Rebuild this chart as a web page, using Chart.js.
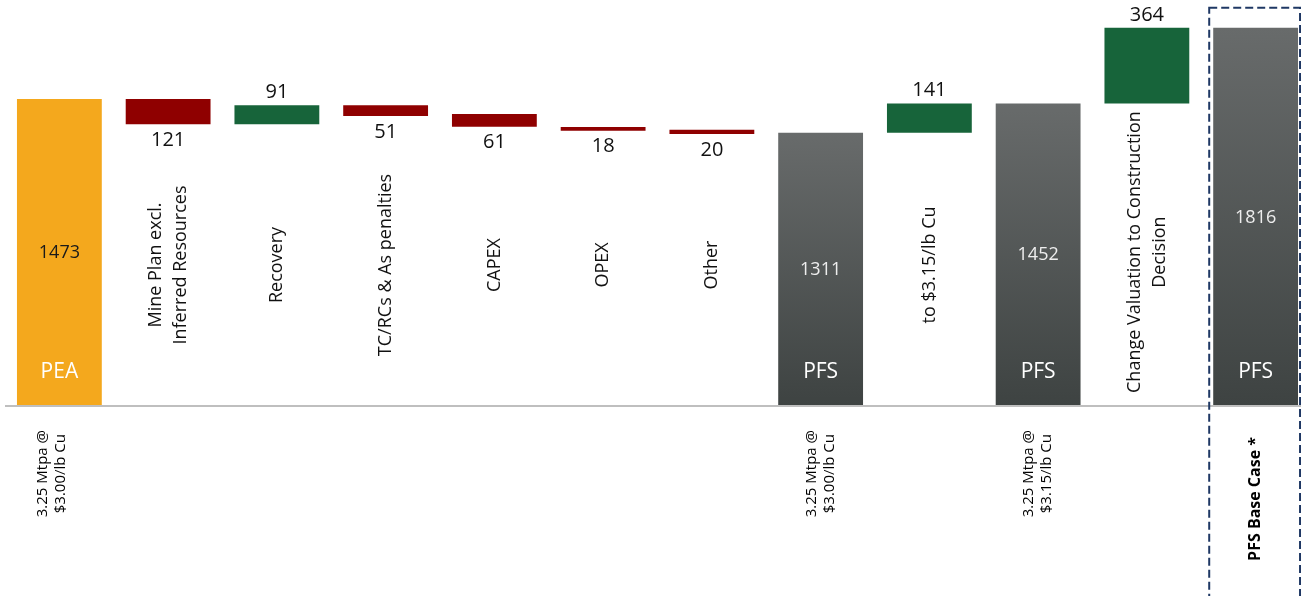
<!DOCTYPE html>
<html>
<head>
<meta charset="utf-8">
<script src="https://cdn.jsdelivr.net/npm/chart.js@4/dist/chart.umd.min.js"></script>
<style>
    html, body { margin: 0; padding: 0; background: #fff; overflow: hidden; }
    #wrap { position: relative; width: 1310px; height: 596px; }
</style>
</head>
<body>
<div id="wrap"><canvas id="chart"></canvas></div>
<script>
// Waterfall steps, PEA to PFS base case
const stepLabels = [
    [], ['Mine Plan excl.', 'Inferred Resources'], ['Recovery'], ['TC/RCs & As penalties'],
    ['CAPEX'], ['OPEX'], ['Other'], [], ['to $3.15/lb Cu'], [],
    ['Change Valuation to Construction', 'Decision'], []
];
const barNames = ['PEA', '', '', '', '', '', '', 'PFS', '', 'PFS', '', 'PFS'];
const bottomLabels = [
    ['3.25 Mtpa @', '$3.00/lb Cu'], [], [], [], [], [], [],
    ['3.25 Mtpa @', '$3.00/lb Cu'], [], ['3.25 Mtpa @', '$3.15/lb Cu'], [], ['PFS Base Case *']
];
const barKind = ['start', 'down', 'up', 'down', 'down', 'down', 'down', 'total', 'up', 'total', 'up', 'total'];
const barLow  = [0, 1352, 1352, 1392, 1340, 1321, 1305, 0, 1311, 0, 1452, 0];
const barHigh = [1473, 1473, 1443, 1443, 1401, 1339, 1325, 1311, 1452, 1452, 1816, 1816];
const shownValues = [1473, 121, 91, 51, 61, 18, 20, 1311, 141, 1452, 364, 1816];

const FONT = '"Open Sans", "Noto Sans", sans-serif';

function barColor(context) {
    const i = context.dataIndex;
    const kind = barKind[i];
    if (kind === 'start') return '#f4a81d';
    if (kind === 'down') return '#8f0000';
    if (kind === 'up') return '#17643a';
    const chart = context.chart;
    const y = chart.scales.y;
    if (!chart.chartArea || !y) return '#4f5453';
    const g = chart.ctx.createLinearGradient(0, y.getPixelForValue(barHigh[i]), 0, y.getPixelForValue(0));
    g.addColorStop(0, '#686b6b');
    g.addColorStop(1, '#3e4342');
    return g;
}

// axis line under the bars
const axisLine = {
    id: 'axisLine',
    beforeDatasetsDraw(chart) {
        const { ctx, chartArea } = chart;
        ctx.save();
        ctx.strokeStyle = '#bfbfbf';
        ctx.lineWidth = 2;
        ctx.beginPath();
        ctx.moveTo(chartArea.left, chartArea.bottom + 1);
        ctx.lineTo(chart.width, chartArea.bottom + 1);
        ctx.stroke();
        ctx.restore();
    }
};

// all the texts and the dashed box
const waterfallLabels = {
    id: 'waterfallLabels',
    afterDatasetsDraw(chart) {
        const { ctx, chartArea } = chart;
        const meta = chart.getDatasetMeta(0);
        ctx.save();
        meta.data.forEach((bar, i) => {
            const top = Math.min(bar.y, bar.base);
            const bottom = Math.max(bar.y, bar.base);
            const kind = barKind[i];
            ctx.textAlign = 'center';

            // value labels
            if (kind === 'down') {
                ctx.font = '20px ' + FONT;
                ctx.fillStyle = '#111';
                ctx.textBaseline = 'top';
                ctx.fillText(shownValues[i], bar.x, bottom + 6);
            } else if (kind === 'up') {
                ctx.font = '20px ' + FONT;
                ctx.fillStyle = '#111';
                ctx.textBaseline = 'bottom';
                ctx.fillText(shownValues[i], bar.x, top - 3);
            } else {
                ctx.font = '18px ' + FONT;
                ctx.fillStyle = kind === 'start' ? '#1a1a1a' : '#eeeeee';
                ctx.textBaseline = 'middle';
                ctx.fillText(shownValues[i], bar.x, (top + bottom) / 2 + 1);
                ctx.font = '21px ' + FONT;
                ctx.fillStyle = '#ffffff';
                ctx.textBaseline = 'alphabetic';
                ctx.fillText(barNames[i], bar.x, bottom - 27);
            }

            // rotated step labels inside the plot
            const lines = stepLabels[i];
            if (lines.length) {
                ctx.font = '18px ' + FONT;
                ctx.fillStyle = '#111';
                ctx.textBaseline = 'middle';
                const half = Math.max(...lines.map(t => ctx.measureText(t).width)) / 2;
                const cy = Math.min(265, chartArea.bottom - 12 - half);
                ctx.save();
                ctx.translate(bar.x, cy);
                ctx.rotate(-Math.PI / 2);
                lines.forEach((t, k) => ctx.fillText(t, 0, (k - (lines.length - 1) / 2) * 25));
                ctx.restore();
            }

            // rotated labels below the axis
            const sub = bottomLabels[i];
            if (sub.length) {
                const bold = sub.length === 1;
                ctx.font = (bold ? 'bold 16px ' : '15px ') + FONT;
                ctx.fillStyle = '#000';
                ctx.textBaseline = 'middle';
                const half = Math.max(...sub.map(t => ctx.measureText(t).width)) / 2;
                const cx = i === 0 ? bar.x - 8 : bar.x;
                ctx.save();
                ctx.translate(cx, chartArea.bottom + (bold ? 32 : 25) + half);
                ctx.rotate(-Math.PI / 2);
                sub.forEach((t, k) => ctx.fillText(t, 0, (k - (sub.length - 1) / 2) * 18));
                ctx.restore();
            }
        });

        // dashed frame round the base case
        const last = meta.data[meta.data.length - 1];
        ctx.strokeStyle = '#1f3864';
        ctx.lineWidth = 2;
        ctx.setLineDash([8, 4]);
        const left = last.x - last.width / 2 - 4;
        const right = last.x + last.width / 2 + 2;
        const top = Math.min(last.y, last.base) - 20;
        ctx.strokeRect(left, top, right - left, chart.height + 20 - top);
        ctx.restore();
    }
};

new Chart(document.getElementById('chart'), {
    type: 'bar',
    data: {
        labels: barNames.map((n, i) => n || stepLabels[i].join(' ')),
        datasets: [{
            data: barLow.map((lo, i) => [lo, barHigh[i]]),
            backgroundColor: barColor,
            borderWidth: 0,
            borderSkipped: false,
            barPercentage: 0.78,
            categoryPercentage: 1
        }]
    },
    options: {
        responsive: true,
        maintainAspectRatio: false,
        animation: false,
        layout: { padding: { left: 5, right: 0, top: 0, bottom: 191 } },
        plugins: { legend: { display: false }, tooltip: { enabled: false } },
        scales: {
            x: { display: false },
            y: { display: false, min: 0, max: 1950 }
        }
    },
    plugins: [axisLine, waterfallLabels]
});
</script>
</body>
</html>
